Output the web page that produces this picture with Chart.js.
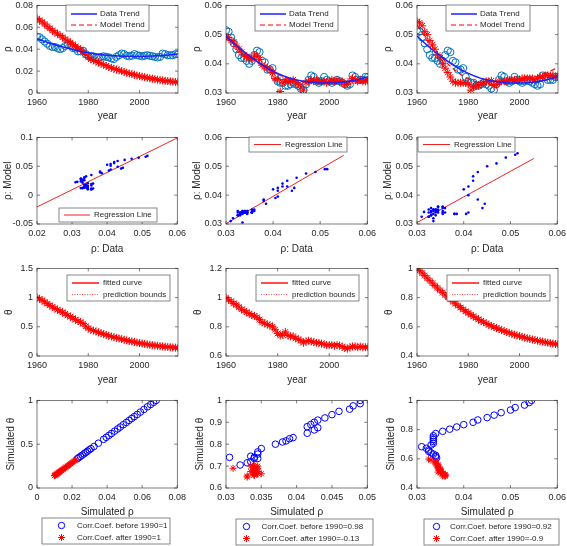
<!DOCTYPE html>
<html>
<head>
<meta charset="utf-8">
<script src="https://cdn.jsdelivr.net/npm/chart.js@4.4.0/dist/chart.umd.min.js"></script>
<style>
  html, body { margin: 0; padding: 0; background: #fff; width: 567px; height: 546px; overflow: hidden; position: relative; }
  canvas { position: absolute; }
</style>
</head>
<body>
<script>
// ---- data ----
const years = [1960, 1961, 1962, 1963, 1964, 1965, 1966, 1967, 1968, 1969,
  1970, 1971, 1972, 1973, 1974, 1975, 1976, 1977, 1978, 1979,
  1980, 1981, 1982, 1983, 1984, 1985, 1986, 1987, 1988, 1989,
  1990, 1991, 1992, 1993, 1994, 1995, 1996, 1997, 1998, 1999,
  2000, 2001, 2002, 2003, 2004, 2005, 2006, 2007, 2008, 2009,
  2010, 2011, 2012, 2013, 2014, 2015];

// observed rho (blue circles)
const dataRho = [0.0515, 0.051, 0.049, 0.047, 0.045, 0.043, 0.042, 0.042, 0.041, 0.040,
  0.041, 0.043, 0.0445, 0.044, 0.041, 0.0405, 0.038, 0.038, 0.0385, 0.0355,
  0.034, 0.0335, 0.0335, 0.0325, 0.0325, 0.033, 0.0335, 0.033, 0.0325, 0.0315,
  0.031, 0.033, 0.0345, 0.036, 0.0355, 0.034, 0.0335, 0.034, 0.0355, 0.0345,
  0.034, 0.0335, 0.034, 0.0345, 0.034, 0.0335, 0.033, 0.0325, 0.033, 0.036,
  0.0355, 0.0345, 0.0345, 0.0345, 0.0355, 0.0355];

// simulated rho, one series per column (red stars)
const modelRho1 = [0.068, 0.0665, 0.0648, 0.063, 0.061, 0.059, 0.0572, 0.0555, 0.054, 0.0525,
  0.051, 0.0492, 0.0475, 0.046, 0.0443, 0.0425, 0.041, 0.0395, 0.038, 0.035,
  0.0325, 0.0308, 0.0298, 0.0288, 0.0278, 0.0268, 0.0258, 0.0248, 0.0238, 0.023,
  0.0222, 0.0214, 0.0207, 0.020, 0.0192, 0.0185, 0.0178, 0.0172, 0.0166, 0.016,
  0.0154, 0.0149, 0.0144, 0.0139, 0.0134, 0.013, 0.0126, 0.0122, 0.0118, 0.0115,
  0.0112, 0.0109, 0.0106, 0.0104, 0.0101, 0.0099];
const modelRho2 = [0.049, 0.049, 0.048, 0.0475, 0.046, 0.045, 0.044, 0.043, 0.0425, 0.042,
  0.0415, 0.043, 0.0425, 0.0415, 0.0395, 0.039, 0.0385, 0.038, 0.037, 0.035,
  0.0345, 0.0305, 0.0335, 0.0345, 0.034, 0.034, 0.0345, 0.0335, 0.033, 0.032,
  0.031, 0.0335, 0.034, 0.0345, 0.034, 0.0345, 0.034, 0.034, 0.034, 0.0335,
  0.034, 0.0345, 0.034, 0.0345, 0.034, 0.034, 0.033, 0.033, 0.034, 0.035,
  0.0345, 0.034, 0.0345, 0.034, 0.034, 0.034];
const modelRho3 = [0.0545, 0.054, 0.053, 0.051, 0.050, 0.048, 0.0465, 0.045, 0.043, 0.042,
  0.040, 0.0385, 0.037, 0.0355, 0.034, 0.0335, 0.0335, 0.0335, 0.0335, 0.0335,
  0.033, 0.031, 0.032, 0.0325, 0.0325, 0.033, 0.0335, 0.034, 0.034, 0.0342,
  0.0325, 0.033, 0.034, 0.034, 0.034, 0.034, 0.0345, 0.0345, 0.0345, 0.0345,
  0.0345, 0.035, 0.035, 0.035, 0.035, 0.035, 0.0345, 0.035, 0.0355, 0.0355,
  0.036, 0.036, 0.036, 0.036, 0.0355, 0.036];

// theta, one series per column
const theta1 = [1.0, 0.978, 0.953, 0.927, 0.897, 0.867, 0.840, 0.815, 0.793, 0.771,
  0.748, 0.722, 0.696, 0.674, 0.649, 0.622, 0.600, 0.578, 0.556, 0.511,
  0.474, 0.449, 0.435, 0.420, 0.405, 0.390, 0.375, 0.361, 0.346, 0.334,
  0.322, 0.310, 0.300, 0.289, 0.278, 0.267, 0.257, 0.248, 0.239, 0.230,
  0.221, 0.214, 0.207, 0.199, 0.192, 0.186, 0.180, 0.174, 0.168, 0.164,
  0.159, 0.155, 0.150, 0.147, 0.143, 0.140];
const theta2 = [1.0, 0.985, 0.975, 0.96, 0.95, 0.935, 0.92, 0.91, 0.90, 0.89,
  0.88, 0.875, 0.865, 0.85, 0.83, 0.825, 0.815, 0.81, 0.80, 0.78,
  0.755, 0.74, 0.745, 0.765, 0.74, 0.735, 0.735, 0.72, 0.715, 0.705,
  0.69, 0.70, 0.705, 0.70, 0.695, 0.69, 0.69, 0.685, 0.68, 0.675,
  0.675, 0.675, 0.67, 0.675, 0.67, 0.665, 0.655, 0.65, 0.66, 0.665,
  0.665, 0.66, 0.665, 0.66, 0.66, 0.66];
const theta3 = [1.0, 0.985, 0.968, 0.951, 0.934, 0.916, 0.899, 0.882, 0.866, 0.85,
  0.834, 0.818, 0.803, 0.788, 0.773, 0.758, 0.745, 0.732, 0.719, 0.706,
  0.694, 0.683, 0.672, 0.661, 0.651, 0.641, 0.632, 0.623, 0.614, 0.606,
  0.598, 0.591, 0.584, 0.577, 0.571, 0.564, 0.558, 0.552, 0.546, 0.541,
  0.536, 0.531, 0.526, 0.521, 0.517, 0.513, 0.509, 0.505, 0.501, 0.498,
  0.494, 0.491, 0.488, 0.485, 0.482, 0.479];

// smooth trend curves (row 1)
const trendYears = [1960, 1965, 1970, 1975, 1980, 1985, 1990, 1995, 2000, 2005, 2010, 2015];
const dataTrend = [0.0495, 0.0455, 0.0421, 0.0391, 0.0367, 0.0350, 0.0340, 0.0335, 0.0334, 0.0337, 0.0344, 0.0356];
const modelTrend1 = [0.068, 0.059, 0.0505, 0.042, 0.032, 0.0268, 0.0222, 0.0185, 0.0154, 0.013, 0.0112, 0.0099];
const modelTrend2 = [0.049, 0.0452, 0.0418, 0.0388, 0.0364, 0.0348, 0.0339, 0.0335, 0.0335, 0.0338, 0.0343, 0.035];
const modelTrend3 = [0.0532, 0.047, 0.0418, 0.0377, 0.0349, 0.0334, 0.0329, 0.0333, 0.0341, 0.0352, 0.0367, 0.0388];

// regression lines (row 2)
const regX1 = [0.02, 0.06], regY1 = [-0.0205, 0.099];
const regX2 = [0.03, 0.055], regY2 = [0.0301, 0.0538];
const regX3 = [0.03, 0.055], regY3 = [0.0305, 0.0527];

// tick values
const yearTicks = [1960, 1980, 2000];
const rhoTicksA = [0, 0.02, 0.04, 0.06, 0.08];
const rhoTicksB = [0.03, 0.04, 0.05, 0.06];
const rhoTicksC = [0.02, 0.03, 0.04, 0.05, 0.06];
const modelTicks1 = [-0.05, 0, 0.05, 0.1];
const thetaTicks1 = [0, 0.5, 1, 1.5];
const thetaTicks2 = [0.6, 0.8, 1, 1.2];
const thetaTicks3 = [0.4, 0.6, 0.8, 1];
const simRhoTicks2 = [0.03, 0.035, 0.04, 0.045, 0.05];
const simThetaTicks1 = [0, 0.5, 1];
const simThetaTicks2 = [0.6, 0.7, 0.8, 0.9, 1];

const corrLabels = [
  ['Corr.Coef. before 1990=1', 'Corr.Coef. after 1990=1'],
  ['Corr.Coef. before 1990=0.98', 'Corr.Coef. after 1990=-0.13'],
  ['Corr.Coef. before 1990=0.92', 'Corr.Coef. after 1990=-0.9']
];

// ---- helpers ----
const FONT = '"Liberation Sans", Arial, Helvetica, sans-serif';
const INK = '#262626';
const CIRC = '#0072BD';

function pts(xs, ys, keep) {
  const out = [];
  for (let i = 0; i < xs.length; i++) if (!keep || keep(i)) out.push({ x: xs[i], y: ys[i] });
  return out;
}
const before = i => years[i] < 1990;
const after = i => years[i] >= 1990;

const circles = (data, color, r, order) => ({ data, order, pointStyle: 'circle', pointRadius: r, borderColor: color, backgroundColor: 'rgba(0,0,0,0)', borderWidth: 1 });
const stars = (data, r, order) => ({ data, order, pointStyle: 'star', pointRadius: r, borderColor: '#ff0000', backgroundColor: 'rgba(0,0,0,0)', borderWidth: 1 });
const dots = (data, order) => ({ data, order, pointStyle: 'circle', pointRadius: 1.3, backgroundColor: '#0000ff', borderWidth: 0 });
const line = (data, color, width, dash, order) => ({ data, order, showLine: true, pointRadius: 0, borderColor: color, borderWidth: width, borderDash: dash || [], cubicInterpolationMode: 'monotone', fill: false });

function drawMarker(ctx, m, x, y) {
  ctx.beginPath();
  ctx.strokeStyle = m.color;
  ctx.lineWidth = 1;
  if (m.style === 'circle') {
    ctx.arc(x, y, 3.2, 0, Math.PI * 2);
  } else {
    const r = 3.5, d = r * Math.SQRT1_2;
    ctx.moveTo(x - r, y); ctx.lineTo(x + r, y);
    ctx.moveTo(x, y - r); ctx.lineTo(x, y + r);
    ctx.moveTo(x - d, y - d); ctx.lineTo(x + d, y + d);
    ctx.moveTo(x - d, y + d); ctx.lineTo(x + d, y - d);
  }
  ctx.stroke();
}

// axes box with inward ticks on all four sides
const frame = {
  id: 'frame',
  afterDatasetsDraw(chart) {
    const { ctx, chartArea: a, scales } = chart;
    ctx.save();
    ctx.strokeStyle = INK;
    ctx.lineWidth = 0.6;
    ctx.strokeRect(a.left, a.top, a.right - a.left, a.bottom - a.top);
    ctx.beginPath();
    scales.x.ticks.forEach(t => {
      const p = scales.x.getPixelForValue(t.value);
      ctx.moveTo(p, a.bottom); ctx.lineTo(p, a.bottom - 3);
      ctx.moveTo(p, a.top); ctx.lineTo(p, a.top + 3);
    });
    scales.y.ticks.forEach(t => {
      const p = scales.y.getPixelForValue(t.value);
      ctx.moveTo(a.left, p); ctx.lineTo(a.left + 3, p);
      ctx.moveTo(a.right, p); ctx.lineTo(a.right - 3, p);
    });
    ctx.stroke();
    ctx.restore();
  }
};

function makeLegend(spec, ox, oy) {
  return {
    id: 'boxLegend',
    afterDraw(chart) {
      const ctx = chart.ctx;
      const [x0, y0, x1, y1] = spec.box;
      ctx.save();
      ctx.fillStyle = '#fff';
      ctx.fillRect(x0 - ox, y0 - oy, x1 - x0, y1 - y0);
      ctx.strokeStyle = '#555';
      ctx.lineWidth = 0.7;
      ctx.strokeRect(x0 - ox, y0 - oy, x1 - x0, y1 - y0);
      spec.items.forEach((it, k) => {
        const y = spec.ys[k] - oy;
        if (it.line) {
          ctx.beginPath();
          ctx.setLineDash(it.line.dash || []);
          ctx.strokeStyle = it.line.color;
          ctx.lineWidth = it.line.width;
          ctx.moveTo(spec.sx[0] - ox, y);
          ctx.lineTo(spec.sx[1] - ox, y);
          ctx.stroke();
          ctx.setLineDash([]);
        }
        if (it.marker) drawMarker(ctx, it.marker, spec.mx - ox, y);
        ctx.fillStyle = INK;
        ctx.font = '8px ' + FONT;
        ctx.textBaseline = 'middle';
        ctx.fillText(it.label, spec.tx - ox, y);
      });
      ctx.restore();
    }
  };
}

function axis(a, which, size, titlePad) {
  return {
    type: 'linear',
    min: a.min,
    max: a.max,
    afterBuildTicks: s => { s.ticks = a.ticks.map(v => ({ value: v })); },
    afterFit: s => { if (which === 'x') s.height = size; else s.width = size; },
    grid: { display: false, drawTicks: false },
    border: { display: false },
    ticks: { font: { family: FONT, size: 9 }, color: INK, padding: 4, autoSkip: false, maxRotation: 0, callback: v => String(v) },
    title: { display: true, text: a.title, font: { family: FONT, size: 10 }, color: INK, padding: which === 'x' ? { top: 2, bottom: 3 } : { top: titlePad, bottom: 2 } }
  };
}

function panel(p) {
  const YW = 37, PT = 8, PR = 12;
  const PB = p.pb || 0;
  const left = p.plot[0] - YW, top = p.plot[1] - PT;
  const w = p.plot[2] - left + PR;
  const h = p.plot[3] - top + p.xh + PB;
  const cv = document.createElement('canvas');
  cv.width = w; cv.height = h;
  cv.style.left = left + 'px'; cv.style.top = top + 'px';
  cv.style.width = w + 'px'; cv.style.height = h + 'px';
  document.body.appendChild(cv);
  const plugins = [frame];
  if (p.legend) plugins.push(makeLegend(p.legend, left, top));
  new Chart(cv.getContext('2d'), {
    type: 'scatter',
    data: { datasets: p.datasets },
    options: {
      responsive: false,
      animation: false,
      events: [],
      layout: { padding: { top: PT, right: PR, bottom: PB, left: 0 } },
      plugins: { legend: { display: false }, tooltip: { enabled: false } },
      scales: { x: axis(p.x, 'x', p.xh, 2), y: axis(p.y, 'y', YW, p.ytp || 2) }
    },
    plugins
  });
}

// ---- layout (plot boxes in page pixels) ----
const colX = [[37, 178], [226, 368], [417, 558]];
const rowY = [[4, 93], [136, 224], [267, 356], [399, 488]];
const box = (c, r) => [colX[c][0], rowY[r][0], colX[c][1], rowY[r][1]];

const modelRho = [modelRho1, modelRho2, modelRho3];
const modelTrend = [modelTrend1, modelTrend2, modelTrend3];
const thetas = [theta1, theta2, theta3];
const regX = [regX1, regX2, regX3], regY = [regY1, regY2, regY3];

// row 1: rho over time
[{ min: 0, max: 0.08, ticks: rhoTicksA }, { min: 0.03, max: 0.06, ticks: rhoTicksB }, { min: 0.03, max: 0.06, ticks: rhoTicksB }].forEach((ya, c) => {
  const L = colX[c][0];
  panel({
    plot: box(c, 0), xh: 32,
    x: { min: 1960, max: 2015, ticks: yearTicks, title: 'year' },
    y: { ...ya, title: 'ρ' },
    datasets: [
      line(pts(trendYears, dataTrend), '#1f1fff', 1.5, [], 0),
      line(pts(trendYears, modelTrend[c]), '#ff0000', 1.2, [5, 3], 1),
      stars(pts(years, modelRho[c]), 4, 2),
      circles(pts(years, dataRho), CIRC, 3.6, 3)
    ],
    legend: {
      box: [L + 29, 5, L + 112 + (c === 2 ? 1 : 0), 31], sx: [L + 34, L + 60], tx: L + 63, ys: [14, 25],
      items: [
        { label: 'Data Trend', line: { color: '#1f1fff', width: 1.5 } },
        { label: 'Model Trend', line: { color: '#ff0000', width: 1, dash: [5, 3] } }
      ]
    }
  });
});

// row 2: model vs data
const row2Legends = [
  { box: [59, 208, 157, 222], sx: [64, 90], tx: 94, ys: [215] },
  { box: [249, 137, 347, 152], sx: [254, 281], tx: 285, ys: [144.5] },
  { box: [418, 137, 515, 152], sx: [423, 450], tx: 454, ys: [144.5] }
];
[
  [{ min: 0.02, max: 0.06, ticks: rhoTicksC }, { min: -0.05, max: 0.1, ticks: modelTicks1 }],
  [{ min: 0.03, max: 0.06, ticks: rhoTicksB }, { min: 0.03, max: 0.06, ticks: rhoTicksB }],
  [{ min: 0.03, max: 0.06, ticks: rhoTicksB }, { min: 0.03, max: 0.06, ticks: rhoTicksB }]
].forEach(([xa, ya], c) => {
  panel({
    plot: box(c, 1), xh: 34,
    x: { ...xa, title: 'ρ: Data' },
    y: { ...ya, title: 'ρ: Model' },
    datasets: [
      dots(pts(dataRho, modelRho[c]), 0),
      line(pts(regX[c], regY[c]), '#ee2222', 1, [], 1)
    ],
    legend: { ...row2Legends[c], items: [{ label: 'Regression Line', line: { color: '#ee2222', width: 1 } }] }
  });
});

// row 3: theta over time
[{ min: 0, max: 1.5, ticks: thetaTicks1 }, { min: 0.6, max: 1.2, ticks: thetaTicks2 }, { min: 0.4, max: 1, ticks: thetaTicks3 }].forEach((ya, c) => {
  const L = colX[c][0];
  panel({
    plot: box(c, 2), xh: 33, ytp: 3,
    x: { min: 1960, max: 2015, ticks: yearTicks, title: 'year' },
    y: { ...ya, title: 'θ' },
    datasets: [
      stars(pts(years, thetas[c]), 4, 0),
      line(pts(years, thetas[c]), 'rgba(255,60,60,0.8)', 2, [], 1)
    ],
    legend: {
      box: [L + 30, 275, L + 133, 301], sx: [L + 35, L + 62], tx: L + 66, ys: [283, 294.5],
      items: [
        { label: 'fitted curve', line: { color: '#ff4d4d', width: 2 } },
        { label: 'prediction bounds', line: { color: '#ff4d4d', width: 1, dash: [1, 1.5] } }
      ]
    }
  });
});

// row 4: simulated theta vs simulated rho
const row4Legends = [
  { box: [42, 518, 170, 544], mx: 61.5, tx: 77, ys: [525.5, 537.5] },
  { box: [236, 519, 373, 545], mx: 246.5, tx: 261.5, ys: [526.5, 538.5] },
  { box: [424, 519, 559, 545], mx: 436.5, tx: 450, ys: [526.5, 538.5] }
];
[
  [{ min: 0, max: 0.08, ticks: rhoTicksA }, { min: 0, max: 1, ticks: simThetaTicks1 }],
  [{ min: 0.03, max: 0.05, ticks: simRhoTicks2 }, { min: 0.6, max: 1, ticks: simThetaTicks2 }],
  [{ min: 0.03, max: 0.06, ticks: rhoTicksB }, { min: 0.4, max: 1, ticks: thetaTicks3 }]
].forEach(([xa, ya], c) => {
  panel({
    plot: box(c, 3), xh: 33, pb: 546 - (rowY[3][1] + 33), ytp: 5,
    x: { ...xa, title: 'Simulated ρ' },
    y: { ...ya, title: 'Simulated θ' },
    datasets: [
      stars(pts(modelRho[c], thetas[c], after), 3.5, 0),
      circles(pts(modelRho[c], thetas[c], before), '#0000ff', 3.3, 1)
    ],
    legend: {
      ...row4Legends[c],
      items: [
        { label: corrLabels[c][0], marker: { style: 'circle', color: '#0000ff' } },
        { label: corrLabels[c][1], marker: { style: 'star', color: '#ff0000' } }
      ]
    }
  });
});
</script>
</body>
</html>
